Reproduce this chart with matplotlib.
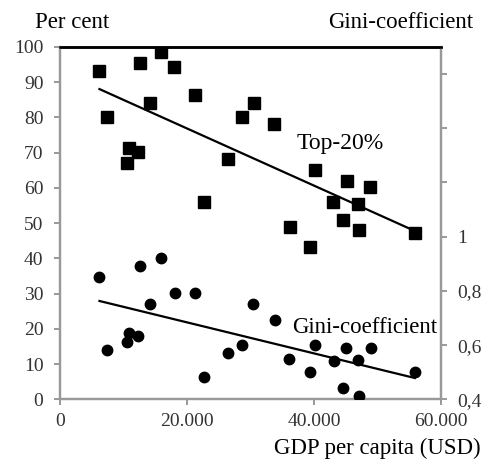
import matplotlib
matplotlib.use("Agg")
import matplotlib.pyplot as plt
from matplotlib.ticker import FuncFormatter
import numpy as np

plt.rcParams["font.family"] = ["Liberation Serif", "DejaVu Serif"]

# GDP per capita (USD) and share of top 20 % (per cent)
gdp_top = [6200, 7350, 12600, 15900, 18000, 14100, 21300, 10900, 12200, 10600,
           22700, 26500, 28700, 30500, 33700, 36200, 39400, 40200, 45200, 48900,
           43000, 47000, 44500, 47100, 55900]
top20 = [93.2, 80.2, 95.3, 98.4, 94.2, 84.2, 86.2, 71.2, 70.1, 67.1,
         56.1, 68.2, 80.1, 84.2, 78.0, 48.9, 43.3, 65.1, 62.0, 60.1,
         56.0, 55.4, 51.0, 48.0, 47.2]

# GDP per capita (USD) and Gini-coefficient
gdp_gini = [6200, 7350, 12600, 15900, 14200, 18100, 21300, 10800, 12200, 10500,
            22700, 26500, 28700, 30400, 33900, 36100, 39400, 40200, 45100, 49000,
            43100, 46900, 44500, 47100, 55900]
gini = [0.852, 0.581, 0.892, 0.922, 0.752, 0.793, 0.793, 0.643, 0.633, 0.611,
        0.482, 0.571, 0.600, 0.752, 0.692, 0.550, 0.501, 0.602, 0.591, 0.591,
        0.541, 0.544, 0.443, 0.412, 0.501]

fig = plt.figure(figsize=(4.85, 4.59), dpi=100)
ax = fig.add_axes([0.124, 0.130, 0.785, 0.768])
ax2 = ax.twinx()

# scatter points
ax.plot(gdp_top, top20, "s", color="black", markersize=9, zorder=3)
ax2.plot(gdp_gini, gini, "o", color="black", markersize=7.5, zorder=3)

# linear trend lines
xt = np.array([min(gdp_top), max(gdp_top)])
k, b = np.polyfit(gdp_top, top20, 1)
ax.plot(xt, k * xt + b, color="black", lw=1.6)
xg = np.array([min(gdp_gini), max(gdp_gini)])
k2, b2 = np.polyfit(gdp_gini, gini, 1)
ax2.plot(xg, k2 * xg + b2, color="black", lw=1.6)

ax.set_xlim(0, 60000)
ax.set_ylim(0, 100)
ax2.set_ylim(0.4, 1.7)
ax.set_xticks([0, 20000, 40000, 60000])
ax.xaxis.set_major_formatter(FuncFormatter(lambda v, p: "0" if v == 0 else f"{int(v):,}".replace(",", ".")))
ax.set_yticks(np.arange(0, 101, 10))
ax2.set_yticks(np.arange(0.4, 1.61, 0.2))
ax2.yaxis.set_major_formatter(FuncFormatter(
    lambda v, p: "" if v > 1.01 else ("1" if abs(v - 1) < 0.01 else f"{v:.1f}".replace(".", ","))))

grey = "#999999"
for a in (ax, ax2):
    for side in ("left", "right", "bottom"):
        a.spines[side].set_color(grey)
        a.spines[side].set_linewidth(1.6)
    a.spines["top"].set_color("black")
    a.spines["top"].set_linewidth(1.8)
    a.tick_params(direction="out", length=4, color=grey, width=1.4,
                  labelsize=14, labelcolor="#333333", pad=8)
ax.tick_params(axis="x", pad=6)

ax.text(44100, 72.7, "Top-20%", fontsize=17, ha="center", va="center")
ax2.text(59400, 0.666, "Gini-coefficient", fontsize=16.5, ha="right", va="center",
         bbox=dict(facecolor="white", edgecolor="none", pad=0.5))

fig.text(0.072, 0.952, "Per cent", fontsize=16.5, ha="left", va="center")
fig.text(0.976, 0.952, "Gini-coefficient", fontsize=16.5, ha="right", va="center")
fig.text(0.99, 0.022, "GDP per capita (USD)", fontsize=16.5, ha="right", va="center")

fig.savefig("out.png", dpi=100)
